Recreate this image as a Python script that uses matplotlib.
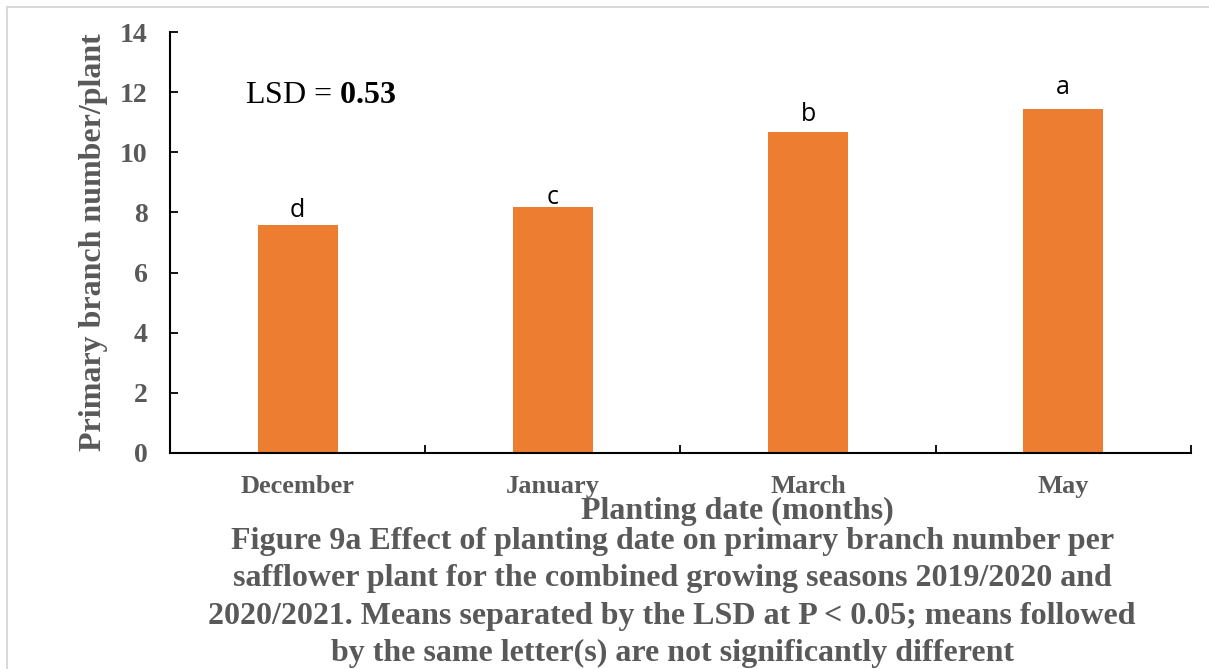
import matplotlib.pyplot as plt
from matplotlib.lines import Line2D

months = ["December", "January", "March", "May"]
branches = [7.6, 8.17, 10.67, 11.43]
letters = ["d", "c", "b", "a"]
yticks = [0, 2, 4, 6, 8, 10, 12, 14]

caption = ("Figure 9a Effect of planting date on primary branch number per\n"
           "safflower plant for the combined growing seasons 2019/2020 and\n"
           "2020/2021. Means separated by the LSD at P < 0.05; means followed\n"
           "by the same letter(s) are not significantly different")

# letters were placed by hand in the original, so gaps above bars differ (points)
letter_gap = [1, -2, 4, 7]

plt.rcParams['font.family'] = 'Liberation Serif'
plt.rcParams['mathtext.fontset'] = 'custom'
plt.rcParams['mathtext.rm'] = 'Liberation Serif'
plt.rcParams['mathtext.bf'] = 'Liberation Serif:bold'

grey = '#595959'
orange = '#ED7D31'

fig = plt.figure(figsize=(12.09, 6.69), dpi=100)
ax = fig.add_axes([0.1406, 0.3229, 0.8444, 0.6291])

x = list(range(len(months)))
ax.bar(x, branches, width=0.314, color=orange)

for i in x:
    ax.annotate(letters[i], (i, branches[i]), xytext=(0, letter_gap[i]), textcoords='offset points',
                ha='center', va='bottom', fontsize=18, family='Open Sans', color='black')

ax.set_xlim(-0.5, len(months) - 0.5)
ax.set_ylim(0, 14)
ax.set_yticks(yticks)
ax.set_yticklabels([str(t) for t in yticks], fontsize=20, fontweight='bold', color=grey)
ax.set_xticks(x)
ax.set_xticklabels(months, fontsize=19, fontweight='bold', color=grey)
ax.set_xticks([i + 0.5 for i in range(-1, len(months))], minor=True)

ax.tick_params(axis='y', direction='in', length=6, width=1.3, pad=16)
ax.tick_params(axis='x', which='major', length=0, pad=16)
ax.tick_params(axis='x', which='minor', direction='in', length=6, width=1.3)

for s in ['top', 'right']:
    ax.spines[s].set_visible(False)
for s in ['left', 'bottom']:
    ax.spines[s].set_linewidth(1.5)

ax.set_ylabel("Primary branch number/plant", fontsize=23, fontweight='bold', color=grey, labelpad=9)

ax.text(0.0735, 0.850, r"LSD = $\mathbf{0.53}$", transform=ax.transAxes,
        fontsize=23, color='black', va='center', ha='left')

fig.text(0.610, 0.235, "Planting date (months)", fontsize=23, fontweight='bold',
         color=grey, ha='center', va='center')
fig.text(0.556, 0.107, caption, fontsize=23, fontweight='bold', color=grey,
         ha='center', va='center', linespacing=1.38)

# light frame of the original figure box
fig.add_artist(Line2D([0.006, 0.006], [0, 0.99], transform=fig.transFigure, color='#d9d9d9', lw=1.5))
fig.add_artist(Line2D([0.006, 1.0], [0.99, 0.99], transform=fig.transFigure, color='#d9d9d9', lw=1.5))

fig.savefig("out.png", dpi=100)
